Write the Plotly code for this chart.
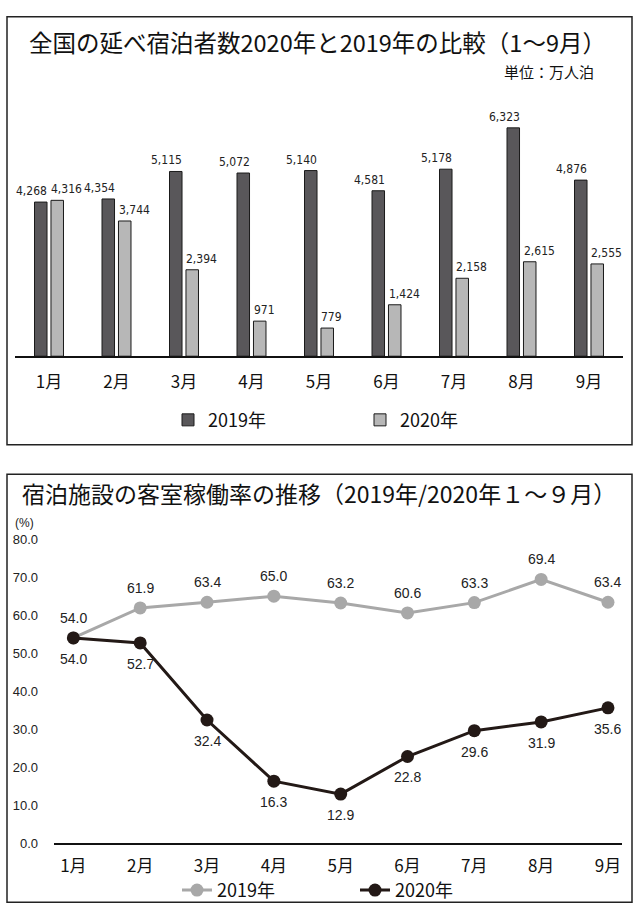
import plotly.graph_objects as go

# --- data ---
months = ["1月", "2月", "3月", "4月", "5月", "6月", "7月", "8月", "9月"]
guests_2019 = [4268, 4354, 5115, 5072, 5140, 4581, 5178, 6323, 4876]
guests_2020 = [4316, 3744, 2394, 971, 779, 1424, 2158, 2615, 2555]
occupancy_2019 = [54.0, 61.9, 63.4, 65.0, 63.2, 60.6, 63.3, 69.4, 63.4]
occupancy_2020 = [54.0, 52.7, 32.4, 16.3, 12.9, 22.8, 29.6, 31.9, 35.6]
occupancy_ticks = [0, 10, 20, 30, 40, 50, 60, 70, 80]

W, H = 640, 919
JP = "Noto Sans CJK JP, sans-serif"
NARROW = "Liberation Sans Narrow, DejaVu Sans Condensed, Liberation Sans, sans-serif"
SANS = "Liberation Sans, Arial, sans-serif"
INK = "#231916"


def px_x(v):
    return v / W


def px_y(v):
    return 1 - v / H


fig = go.Figure()

# top chart: guest nights
fig.add_trace(go.Bar(
    x = months, y = guests_2019, name = "2019年",
    marker = dict(color = "#59575a", line = dict(color = "#1a1a1a", width = 1)),
    xaxis = "x", yaxis = "y", legend = "legend",
))
fig.add_trace(go.Bar(
    x = months, y = guests_2020, name = "2020年",
    marker = dict(color = "#b7b7b7", line = dict(color = "#1a1a1a", width = 1)),
    xaxis = "x", yaxis = "y", legend = "legend",
))

# bottom chart: occupancy rate
fig.add_trace(go.Scatter(
    x = months, y = occupancy_2019, name = "2019年", mode = "lines+markers",
    line = dict(color = "#a8a8a8", width = 3),
    marker = dict(size = 13, color = "#a8a8a8"),
    xaxis = "x2", yaxis = "y2", legend = "legend2",
))
fig.add_trace(go.Scatter(
    x = months, y = occupancy_2020, name = "2020年", mode = "lines+markers",
    line = dict(color = INK, width = 3),
    marker = dict(size = 13, color = INK),
    xaxis = "x2", yaxis = "y2", legend = "legend2",
))

annotations = []
for m, v in zip(months, guests_2019):
    annotations.append(dict(
        x = m, y = v, xref = "x", yref = "y", text = f"{v:,}", showarrow = False,
        xanchor = "right", yanchor = "bottom", xshift = -1, yshift = 3, borderpad = 0,
        font = dict(family = NARROW, size = 12, color = "#222"),
    ))
for m, v in zip(months, guests_2020):
    annotations.append(dict(
        x = m, y = v, xref = "x", yref = "y", text = f"{v:,}", showarrow = False,
        xanchor = "left", yanchor = "bottom", xshift = 1, yshift = 3, borderpad = 0,
        font = dict(family = NARROW, size = 12, color = "#222"),
    ))
for m, v in zip(months, occupancy_2019):
    annotations.append(dict(
        x = m, y = v, xref = "x2", yref = "y2", text = f"{v:.1f}", showarrow = False,
        yshift = 20, font = dict(family = SANS, size = 14, color = "#222"),
    ))
for m, v in zip(months, occupancy_2020):
    annotations.append(dict(
        x = m, y = v, xref = "x2", yref = "y2", text = f"{v:.1f}", showarrow = False,
        yshift = -21, font = dict(family = SANS, size = 14, color = "#222"),
    ))

# titles and notes
annotations += [
    dict(x = px_x(317), y = px_y(36), xref = "paper", yref = "paper", showarrow = False,
         yanchor = "middle", text = "全国の延べ宿泊者数2020年と2019年の比較（1～9月）",
         font = dict(family = JP, size = 23.5, color = "#111")),
    dict(x = px_x(596), y = px_y(66), xref = "paper", yref = "paper", showarrow = False,
         xanchor = "right", yanchor = "middle", text = "単位：万人泊",
         font = dict(family = JP, size = 15, color = "#111")),
    dict(x = px_x(319), y = px_y(494), xref = "paper", yref = "paper", showarrow = False,
         yanchor = "middle", text = "宿泊施設の客室稼働率の推移（2019年/2020年１～９月）",
         font = dict(family = JP, size = 23, color = "#111")),
    dict(x = px_x(13), y = px_y(525), xref = "paper", yref = "paper", showarrow = False,
         xanchor = "left", yanchor = "middle", text = "(%)",
         font = dict(family = SANS, size = 12, color = "#222")),
]

fig.update_layout(
    width = W, height = H,
    margin = dict(l = 0, r = 0, t = 0, b = 0),
    paper_bgcolor = "white", plot_bgcolor = "white",
    barmode = "group", bargap = 0.512, bargroupgap = 0.24,
    annotations = annotations,
    shapes = [
        dict(type = "rect", xref = "paper", yref = "paper",
             x0 = px_x(7), x1 = px_x(632), y0 = px_y(445), y1 = px_y(10),
             line = dict(color = "#222", width = 1.5)),
        dict(type = "rect", xref = "paper", yref = "paper",
             x0 = px_x(7), x1 = px_x(632), y0 = px_y(910), y1 = px_y(475),
             line = dict(color = "#222", width = 1.5)),
    ],
    xaxis = dict(
        domain = [px_x(15), px_x(623)], anchor = "y",
        showline = True, linecolor = "#111", linewidth = 1.5,
        showgrid = False, ticks = "", ticklabelstandoff = 10,
        tickfont = dict(family = JP, size = 17, color = "#111"),
    ),
    yaxis = dict(
        domain = [px_y(355), px_y(98)], anchor = "x", range = [0, 7000],
        visible = False,
    ),
    xaxis2 = dict(
        domain = [px_x(54), px_x(622)], anchor = "y2", range = [-0.29, 8.21],
        showline = True, linecolor = "#111", linewidth = 1.5,
        showgrid = False, ticks = "", ticklabelstandoff = 7,
        tickfont = dict(family = JP, size = 17, color = "#111"),
    ),
    yaxis2 = dict(
        domain = [px_y(850), px_y(541)], anchor = "x2", range = [0, 80],
        tickvals = occupancy_ticks, tickformat = ".1f",
        showline = False, showgrid = False, zeroline = False, ticks = "",
        ticklabelstandoff = 15,
        tickfont = dict(family = SANS, size = 13, color = "#222"),
    ),
    legend = dict(
        orientation = "h", x = px_x(168), y = px_y(420), xanchor = "left", yanchor = "middle",
        entrywidth = 147, entrywidthmode = "pixels", bgcolor = "rgba(0,0,0,0)",
        font = dict(family = JP, size = 18, color = "#111"),
    ),
    legend2 = dict(
        orientation = "h", x = px_x(177), y = px_y(898), xanchor = "left", yanchor = "middle",
        entrywidth = 133, entrywidthmode = "pixels", bgcolor = "rgba(0,0,0,0)",
        font = dict(family = JP, size = 18, color = "#111"),
    ),
)

# page body has a default margin that would push the figure off the window
fig.write_html(
    "out.html",
    config = {"displayModeBar": False},
    post_script = "document.body.style.margin = '0';",
)
